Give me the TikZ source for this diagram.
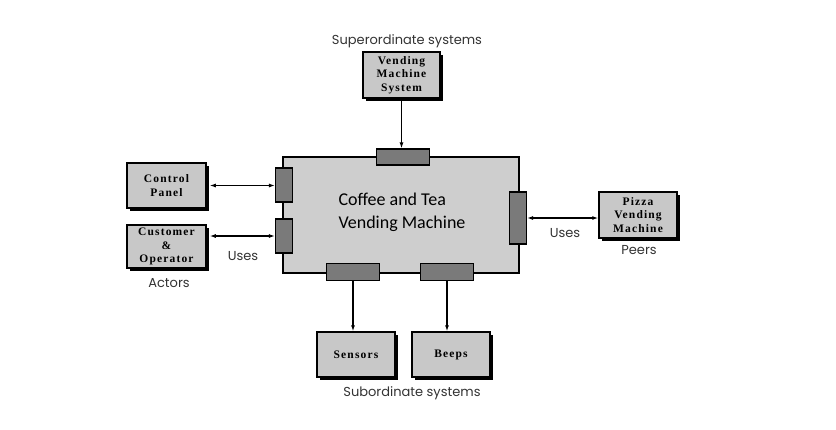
\documentclass[tikz,border=0pt]{standalone}
\usepackage{fontspec}
\usepackage{xcolor}
\usepackage{tikz}
\usetikzlibrary{shadows,arrows.meta}

\newfontfamily\labelfont{Poppins}
\newfontfamily\boxfont[LetterSpace=10]{Liberation Serif}
\newfontfamily\coffeefont{Carlito}

\definecolor{boxgray}{RGB}{200,200,200}
\definecolor{maingray}{RGB}{206,206,206}
\definecolor{portgray}{RGB}{122,122,122}

\tikzset{
  sysbox/.style={draw, line width=1.5pt, fill=boxgray, minimum width=79pt, minimum height=45pt,
    inner sep=1pt, align=center, font=\boxfont\bfseries\fontsize{11.5}{13.5}\selectfont,
    drop shadow={shadow xshift=3pt, shadow yshift=-3pt, fill=black, opacity=1}},
  port/.style={draw, line width=1.2pt, fill=portgray, inner sep=0pt},
  caption/.style={font=\labelfont\fontsize{13}{15}\selectfont, text=black!80},
  link/.style={line width=1.1pt, -{Latex[length=6pt,width=4pt]}},
  twoway/.style={line width=1.1pt, {Latex[length=6pt,width=4pt]}-{Latex[length=6pt,width=4pt]}}
}

\begin{document}
\begin{tikzpicture}[x=1pt,y=-1pt]
    \useasboundingbox (0,0) rectangle (836,429);

    \node[draw, line width=2.8pt, fill=maingray, minimum width=236pt, minimum height=116pt, inner sep=0pt] (vm) at (401,215) {};
    \node[anchor=west, align=left, font=\coffeefont\fontsize{18}{23}\selectfont] (vmtext) at (335,212) {Coffee and Tea\\Vending Machine};

    \node[port, minimum width=53pt, minimum height=16pt] (ptop) at (403,157) {};
    \node[port, minimum width=17pt, minimum height=34pt] (pleft) at (284,185) {};
    \node[port, minimum width=17pt, minimum height=34pt] (pleftb) at (284,236) {};
    \node[port, minimum width=17pt, minimum height=52pt] (pright) at (518,218) {};
    \node[port, minimum width=53pt, minimum height=17pt] (pbot) at (353,272) {};
    \node[port, minimum width=53pt, minimum height=17pt] (pbotb) at (447,272) {};

    \node[sysbox, minimum width=77pt, minimum height=46pt] (vms) at (401.5,75) {Vending\\Machine\\System};
    \node[sysbox] (panel) at (166.5,185.5) {Control\\Panel};
    \node[sysbox, minimum height=43pt] (customer) at (166.5,246.5) {Customer\\\&\\Operator};
    \node[sysbox, minimum width=78pt, minimum height=46pt] (pizza) at (638,215) {Pizza\\Vending\\Machine};
    \node[sysbox, minimum width=78pt] (sensors) at (356,354.5) {Sensors};
    \node[sysbox, minimum width=78pt] (beeps) at (451,354.5) {Beeps};

    \draw[link] (vms.south) -- (vms.south |- ptop.north);
    \draw[twoway, shorten <=3pt] (panel.east) -- (panel.east -| pleft.west);
    \draw[twoway, shorten <=3pt] (customer.east |- pleftb.west) -- (pleftb.west);
    \draw[twoway] (pright.east) -- (pright.east -| pizza.west);
    \draw[link] (pbot.south) -- (pbot.south |- sensors.north);
    \draw[link] (pbotb.south) -- (pbotb.south |- beeps.north);

    \node[caption] (super) at (407,41) {Superordinate systems};
    \node[caption] (actors) at (169,283) {Actors};
    \node[caption] (usesl) at (243,256) {Uses};
    \node[caption] (usesr) at (565,233) {Uses};
    \node[caption] (peers) at (639,250) {Peers};
    \node[caption] (sub) at (412,393) {Subordinate systems};
\end{tikzpicture}
\end{document}
